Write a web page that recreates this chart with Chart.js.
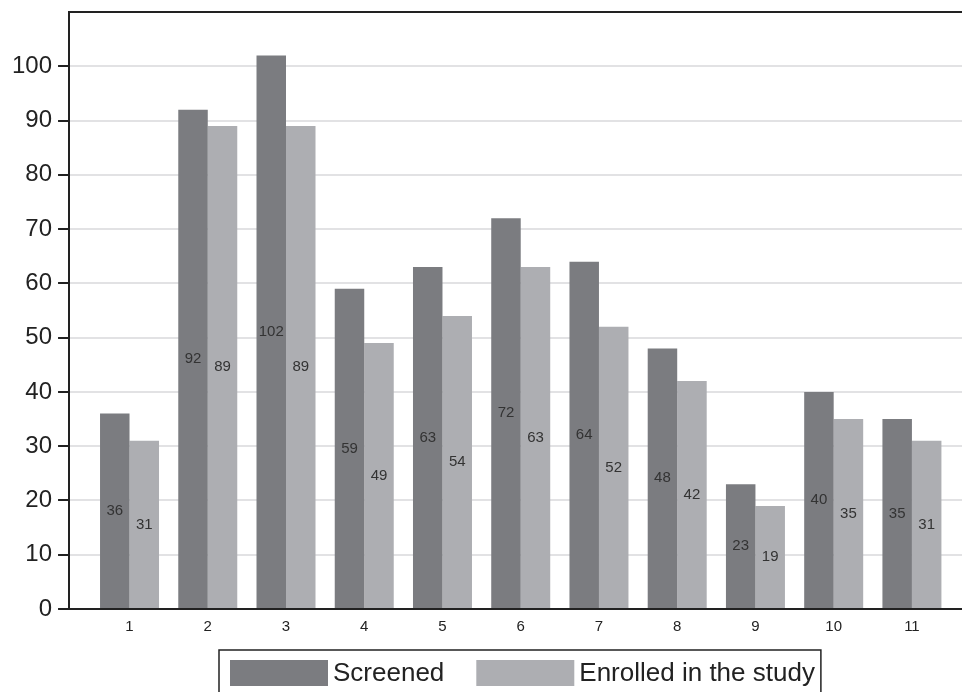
<!DOCTYPE html>
<html>
<head>
<meta charset="utf-8">
<script src="https://cdn.jsdelivr.net/npm/chart.js@4/dist/chart.umd.min.js"></script>
<style>
    html, body { margin: 0; padding: 0; background: #fff; }
    #wrap { width: 962px; height: 692px; }
</style>
</head>
<body>
<div id="wrap"><canvas id="screeningChart"></canvas></div>
<script>
// Chart data
const categories = [1, 2, 3, 4, 5, 6, 7, 8, 9, 10, 11];
const screened = [36, 92, 102, 59, 63, 72, 64, 48, 23, 40, 35];
const enrolled = [31, 89, 89, 49, 54, 63, 52, 42, 19, 35, 31];
const seriesLabels = ["Screened", "Enrolled in the study"];
const yTicks = [0, 10, 20, 30, 40, 50, 60, 70, 80, 90, 100];

const darkGrey = "#7b7c80";
const lightGrey = "#adaeb2";
const ink = "#222222";

// value labels in the middle of each bar
const barValues = {
    id: "barValues",
    afterDatasetsDraw(chart) {
        const ctx = chart.ctx;
        ctx.save();
        ctx.font = "15px 'Liberation Sans', Arial, sans-serif";
        ctx.fillStyle = "#333";
        ctx.textAlign = "center";
        ctx.textBaseline = "middle";
        chart.data.datasets.forEach((ds, i) => {
            chart.getDatasetMeta(i).data.forEach((bar, j) => {
                ctx.fillText(ds.data[j].y, bar.x, (bar.y + bar.base) / 2);
            });
        });
        ctx.restore();
    },
};

// top frame line + boxed legend under the axis
const boxLegend = {
    id: "boxLegend",
    afterDraw(chart) {
        const ctx = chart.ctx;
        const area = chart.chartArea;
        ctx.save();
        ctx.strokeStyle = ink;
        ctx.lineWidth = 2;
        ctx.beginPath();
        ctx.moveTo(area.left - 1, area.top);
        ctx.lineTo(area.right, area.top);
        ctx.stroke();

        ctx.font = "26px 'Liberation Sans', Arial, sans-serif";
        const swW = 98, swH = 26, gap = 5, itemGap = 32, padL = 11, padR = 6;
        const widths = chart.data.datasets.map((ds) => ctx.measureText(ds.label).width);
        let total = padL + padR;
        widths.forEach((w, i) => {
            total += swW + gap + w + (i < widths.length - 1 ? itemGap : 0);
        });
        const left = Math.round((area.left + area.right) / 2 + 4 - total / 2);
        const top = 650;
        ctx.lineWidth = 1.5;
        ctx.strokeRect(left, top, total, 60);
        let x = left + padL;
        const cy = top + 23;
        ctx.textBaseline = "middle";
        chart.data.datasets.forEach((ds, i) => {
            ctx.fillStyle = ds.backgroundColor;
            ctx.fillRect(x, cy - swH / 2, swW, swH);
            x += swW + gap;
            ctx.fillStyle = ink;
            ctx.fillText(ds.label, x, cy + 1);
            x += widths[i] + itemGap;
        });
        ctx.restore();
    },
};

const ctx = document.getElementById("screeningChart");

new Chart(ctx, {
    type: "bar",
    data: {
        datasets: [
            {
                label: seriesLabels[0],
                data: categories.map((c, i) => ({ x: c, y: screened[i] })),
                backgroundColor: darkGrey,
            },
            {
                label: seriesLabels[1],
                data: categories.map((c, i) => ({ x: c, y: enrolled[i] })),
                backgroundColor: lightGrey,
            },
        ],
    },
    options: {
        responsive: true,
        maintainAspectRatio: false,
        animation: false,
        layout: {
            padding: { left: 6, right: 0, top: 12, bottom: 55 },
        },
        datasets: {
            bar: {
                categoryPercentage: 0.754,
                barPercentage: 1,
            },
        },
        scales: {
            x: {
                type: "linear",
                offset: false,
                min: 0.227,
                max: 11.64,
                afterBuildTicks: (scale) => {
                    scale.ticks = categories.map((v) => ({ value: v }));
                },
                ticks: {
                    color: ink,
                    padding: 1,
                    font: { family: "'Liberation Sans', Arial, sans-serif", size: 15 },
                },
                grid: { display: false },
                border: { color: ink, width: 2 },
            },
            y: {
                min: 0,
                max: 110,
                afterBuildTicks: (scale) => {
                    scale.ticks = yTicks.map((v) => ({ value: v }));
                },
                ticks: {
                    color: ink,
                    padding: 6,
                    font: { family: "'Liberation Sans', Arial, sans-serif", size: 24, lineHeight: 0.4 },
                },
                grid: {
                    color: "#e2e2e4",
                    lineWidth: 2,
                    tickLength: 11,
                    tickColor: ink,
                },
                border: { color: ink, width: 2 },
            },
        },
        plugins: {
            legend: { display: false },
            tooltip: { enabled: false },
        },
    },
    plugins: [barValues, boxLegend],
});
</script>
</body>
</html>
